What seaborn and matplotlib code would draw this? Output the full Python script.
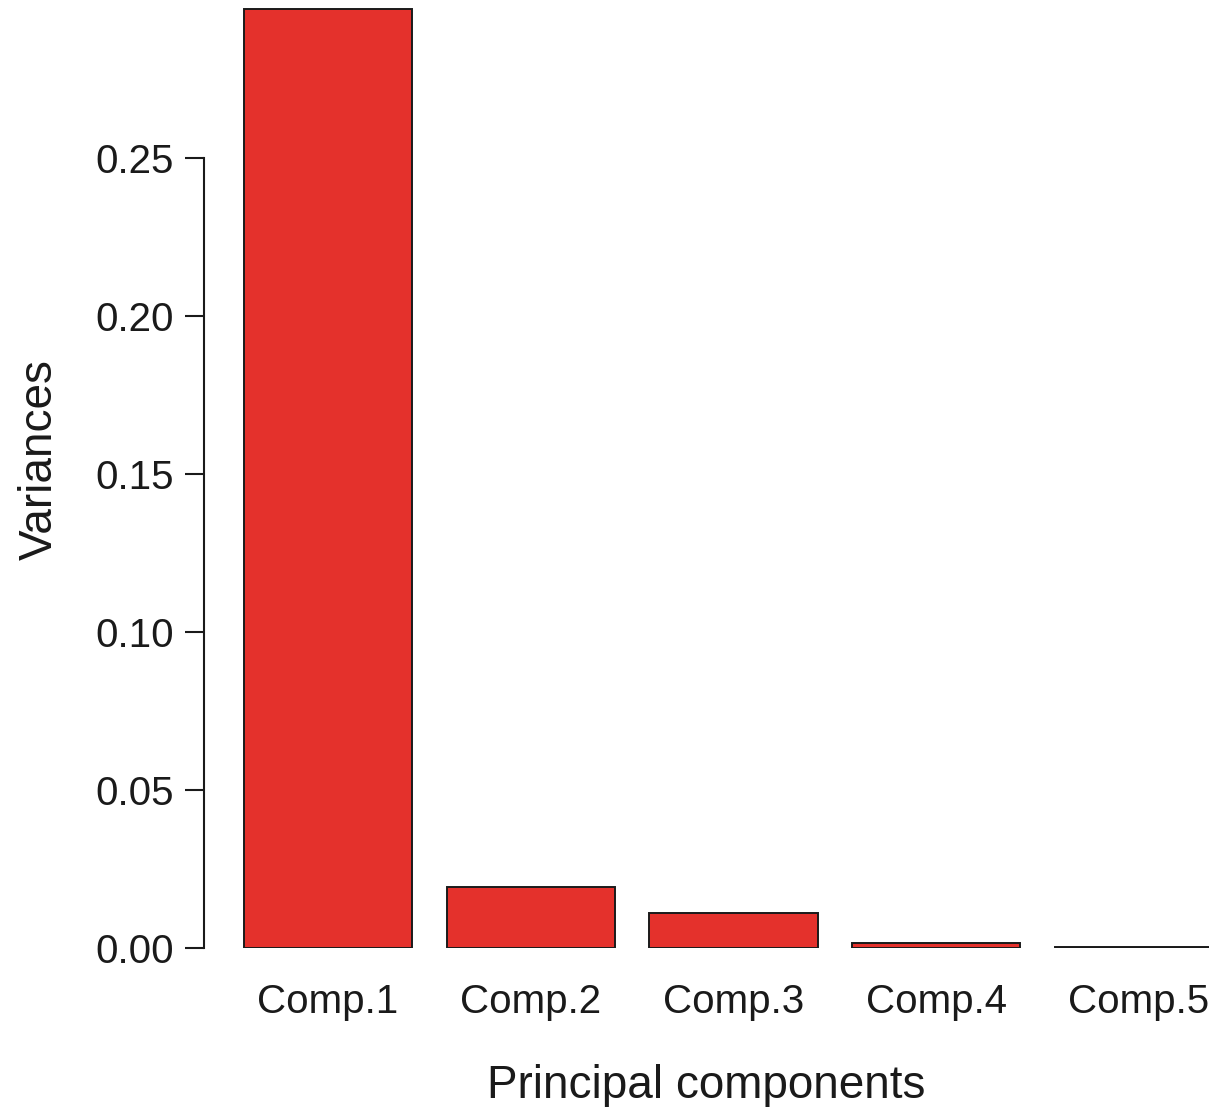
"""Scree plot: variances of the principal components."""

import matplotlib
matplotlib.use("Agg")
import matplotlib.pyplot as plt
import seaborn as sns
import pandas as pd

COMPONENTS = ["Comp.1", "Comp.2", "Comp.3", "Comp.4", "Comp.5"]
VARIANCES = [0.2972, 0.0193, 0.0111, 0.0016, 0.0002]

BAR_COLOR = "#E4312C"
INK = "#1a1a1a"


def main():
    sns.set_style("white")
    plt.rcParams["font.family"] = ["Liberation Sans", "DejaVu Sans"]
    plt.rcParams["text.color"] = INK
    plt.rcParams["axes.labelcolor"] = INK
    plt.rcParams["xtick.color"] = INK
    plt.rcParams["ytick.color"] = INK

    df = pd.DataFrame({"component": COMPONENTS, "variance": VARIANCES})

    fig = plt.figure(figsize=(12.09, 11.07), dpi=100)
    # axes: left edge at the y axis line, top at figure top, bottom at y=0
    ax = fig.add_axes([204 / 1209, 159 / 1107, 1005 / 1209, 948 / 1107])

    sns.barplot(data=df, x="component", y="variance", ax=ax,
                color=BAR_COLOR, saturation=1, width=0.83,
                edgecolor=INK, linewidth=1.4)

    ax.set_xlim(-0.612, 4.346)
    ax.set_ylim(0, 0.3)
    ax.set_yticks([0.0, 0.05, 0.10, 0.15, 0.20, 0.25])
    ax.set_yticklabels(["0.00", "0.05", "0.10", "0.15", "0.20", "0.25"])

    for side in ["top", "right", "bottom"]:
        ax.spines[side].set_visible(False)
    ax.spines["left"].set_bounds(0, 0.25)
    ax.spines["left"].set_linewidth(1.5)
    ax.spines["left"].set_color(INK)

    ax.tick_params(axis="y", left=True, length=13.5, width=1.5,
                   color=INK, labelsize=29, pad=8)
    ax.tick_params(axis="x", bottom=False, length=0, labelsize=29, pad=25)
    ax.grid(False)

    ax.set_xlabel("Principal components", fontsize=33, va="center")
    ax.xaxis.set_label_coords(0.5, -0.146)
    ax.set_ylabel("Variances", fontsize=33, va="center")
    ax.yaxis.set_label_coords(-0.163, 0.515)

    fig.savefig("out.png", dpi=100)
    plt.close(fig)


if __name__ == "__main__":
    main()
